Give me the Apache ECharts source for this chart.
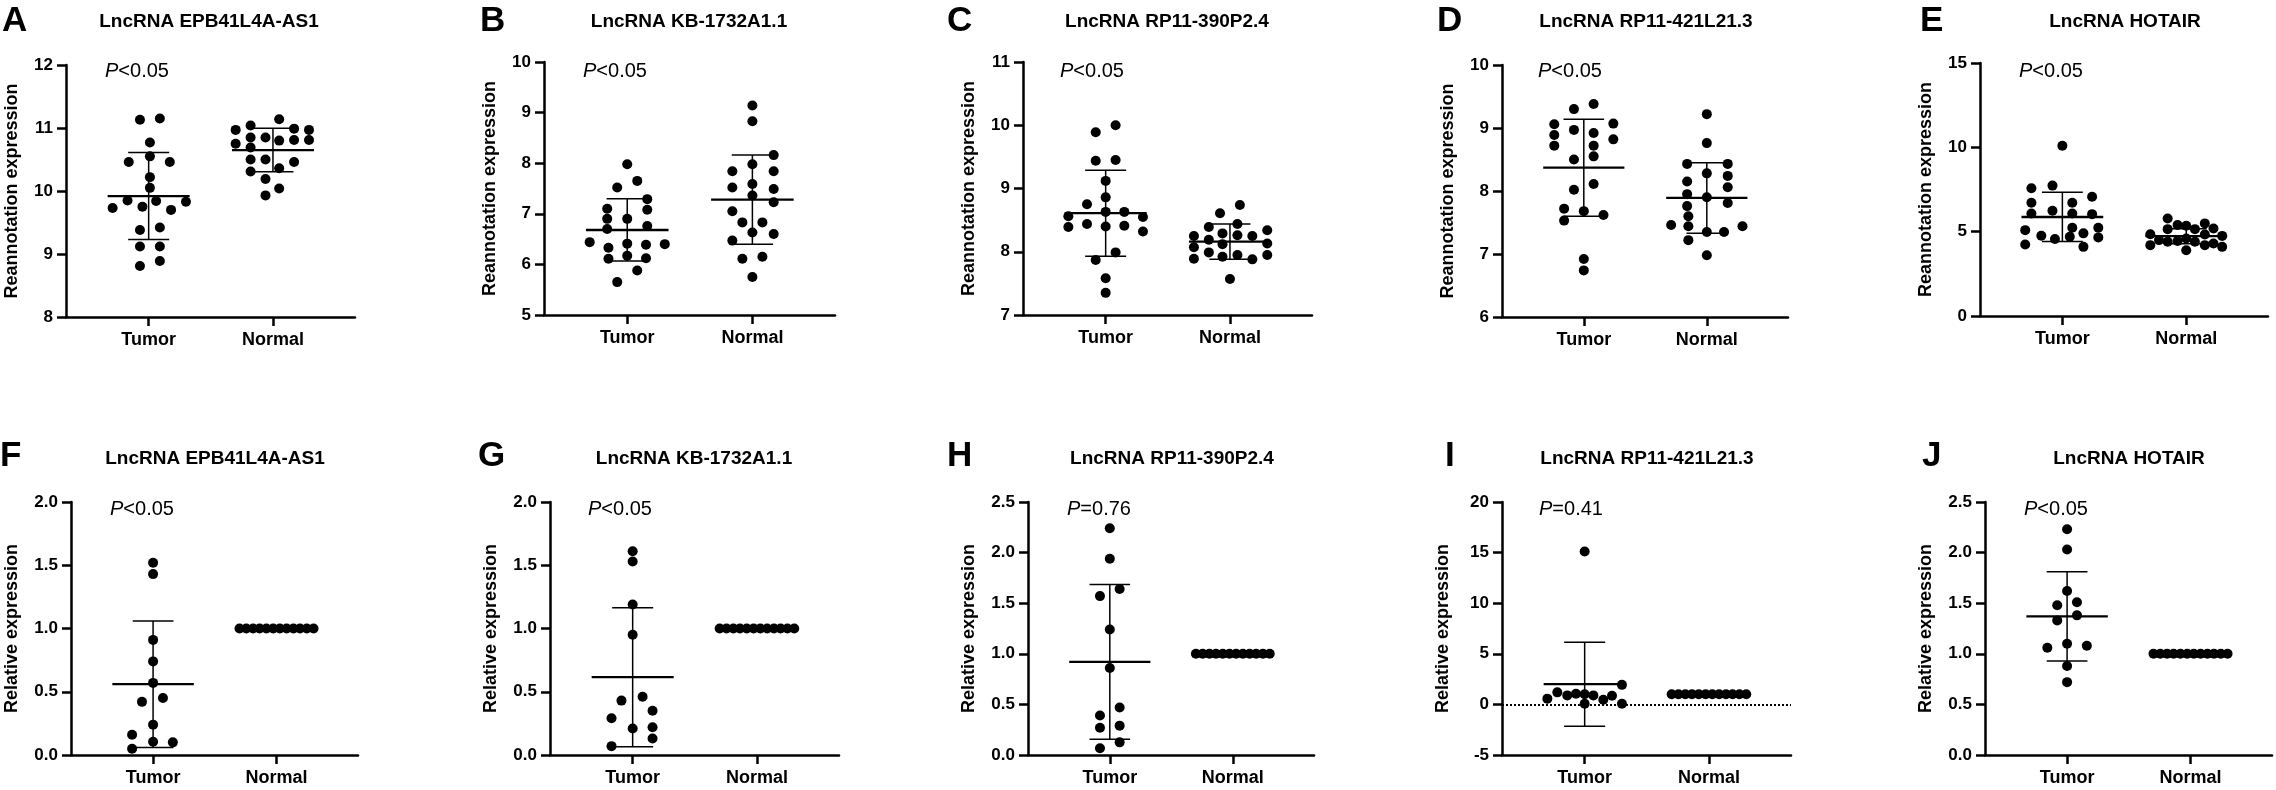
<!DOCTYPE html>
<html>
<head>
<meta charset="utf-8">
<script src="https://cdn.jsdelivr.net/npm/echarts@6/dist/echarts.min.js"></script>
<style>
  html, body { margin: 0; padding: 0; background: #fff; }
  #chart { width: 2276px; height: 790px; }
</style>
</head>
<body>
<div id="chart"></div>
<script>
var groups = ['Tumor', 'Normal'];
var letters = ['A', 'B', 'C', 'D', 'E', 'F', 'G', 'H', 'I', 'J'];
var genes = ['LncRNA EPB41L4A-AS1', 'LncRNA KB-1732A1.1', 'LncRNA RP11-390P2.4',
             'LncRNA RP11-421L21.3', 'LncRNA HOTAIR'];
var yNames = ['Reannotation expression', 'Relative expression'];
var pValues = ['<0.05', '<0.05', '<0.05', '<0.05', '<0.05', '<0.05', '<0.05', '=0.76', '=0.41', '<0.05'];
var yMin = [8, 5, 7, 6, 0, 0, 0, 0, -5, 0];
var yMax = [12, 10, 11, 10, 15, 2, 2, 2.5, 20, 2.5];
var yStep = [1, 1, 1, 1, 5, 0.5, 0.5, 0.5, 5, 0.5];
var yDecimals = [0, 0, 0, 0, 0, 1, 1, 1, 0, 1];

// each point: [offset inside its column, value]
var aTumor = [[-0.07,11.13],[0.09,11.15],[0.01,10.77],[-0.16,10.46],[0.01,10.55],[0.17,10.46],[0.01,10.22],
  [0.01,10.05],[-0.17,9.85],[0.06,9.84],[0.30,9.83],[-0.29,9.73],[-0.05,9.75],[0.18,9.70],[-0.07,9.38],
  [0.09,9.42],[-0.07,9.12],[0.09,9.12],[-0.07,8.81],[0.09,8.89]];
var aNormal = [[-0.30,10.97],[-0.18,11.04],[0.05,11.14],[0.17,10.99],[0.29,10.97],[-0.18,10.85],[-0.06,10.85],
  [0.05,10.80],[0.17,10.81],[0.29,10.81],[-0.30,10.75],[-0.18,10.69],[-0.18,10.50],[-0.06,10.50],[0.17,10.46],
  [-0.18,10.31],[0.05,10.36],[-0.06,10.19],[-0.06,9.93],[0.05,10.04]];
var bTumor = [[0,7.98],[-0.08,7.52],[0.08,7.65],[0.16,7.29],[-0.16,7.10],[0.16,7.08],[-0.16,6.90],[0,6.90],
  [-0.16,6.70],[0.16,6.76],[-0.30,6.44],[-0.15,6.33],[0,6.41],[0.15,6.39],[0.30,6.40],[-0.15,6.11],[0,6.17],
  [0.15,6.12],[0.08,5.88],[-0.08,5.65]];
var bNormal = [[0,9.14],[0,8.83],[0.17,8.16],[0,7.98],[-0.16,7.84],[0.17,7.84],[-0.16,7.52],[0,7.59],[0.17,7.49],
  [0,7.36],[-0.16,7.05],[0.17,7.23],[-0.08,6.83],[0.08,6.83],[0,6.63],[0.17,6.60],[-0.16,6.47],[-0.08,6.11],
  [0.08,6.15],[0,5.75]];
var cTumor = [[-0.08,9.89],[0.08,10.00],[-0.08,9.44],[0.08,9.45],[0,9.12],[0,8.86],[-0.15,8.75],[-0.30,8.56],
  [0,8.63],[0.15,8.63],[0.30,8.55],[-0.30,8.39],[-0.15,8.44],[0,8.40],[0.15,8.41],[0.30,8.32],[0.08,7.99],
  [-0.08,7.87],[0,7.58],[0,7.35]];
var cNormal = [[0.08,8.74],[-0.08,8.61],[-0.17,8.39],[0.06,8.44],[0.30,8.34],[-0.29,8.25],[-0.06,8.29],[0.06,8.26],
  [0.18,8.25],[-0.17,8.19],[0.30,8.13],[-0.29,8.07],[-0.06,8.12],[-0.17,7.99],[-0.29,7.89],[-0.06,7.92],
  [0.06,7.95],[0.18,7.88],[0.30,7.95],[0,7.57]];
var dTumor = [[-0.08,9.30],[0.08,9.38],[-0.24,9.06],[0.24,9.07],[-0.08,8.97],[0.08,8.92],[-0.24,8.89],[-0.24,8.72],
  [0.08,8.72],[0.24,8.82],[-0.08,8.50],[0.08,8.55],[0.08,8.11],[-0.08,8.02],[-0.16,7.72],[-0.16,7.53],[0,7.68],
  [0.16,7.62],[0,6.92],[0,6.74]];
var dNormal = [[0,9.22],[0,8.76],[-0.16,8.43],[0.17,8.43],[0,8.28],[0.17,8.24],[-0.16,8.15],[0.17,8.06],[-0.16,7.95],
  [0,7.90],[0.17,7.81],[-0.16,7.76],[-0.15,7.60],[-0.29,7.46],[-0.15,7.44],[0.29,7.44],[0,7.35],[0.14,7.35],
  [-0.15,7.22],[0,6.98]];
var eTumor = [[0,10.09],[-0.25,7.57],[-0.08,7.73],[0.24,7.07],[-0.25,6.71],[0.08,6.71],[-0.25,6.08],[-0.08,6.24],
  [0.08,6.08],[0.24,6.04],[-0.30,5.09],[0.08,5.23],[0.29,5.23],[-0.17,4.76],[-0.06,4.56],[0.06,4.70],[0.17,4.90],
  [0.29,4.66],[-0.30,4.24],[0.17,4.10]];
var eNormal = [[-0.15,5.78],[-0.15,5.15],[-0.07,5.39],[0,5.35],[0.07,5.15],[0.15,5.49],[0.22,5.19],[-0.29,4.85],
  [0.29,4.75],[-0.22,4.50],[-0.15,4.40],[-0.07,4.45],[0,4.60],[0.07,4.40],[0.15,4.83],[0.15,4.20],[0.22,4.30],
  [-0.29,4.20],[0.29,4.10],[0,3.90]];
var fTumor = [[0,1.52],[0,1.43],[0,0.91],[0,0.74],[0,0.57],[-0.09,0.42],[0.08,0.45],[0,0.24],[-0.17,0.16],
  [0,0.105],[0.16,0.10],[-0.17,0.05]];
var gTumor = [[0,1.61],[0,1.53],[0,1.19],[0,0.95],[-0.09,0.43],[0.08,0.46],[0.16,0.35],[-0.17,0.29],[0,0.21],
  [0.16,0.22],[0.16,0.13],[-0.17,0.07]];
var hTumor = [[0,2.24],[0,1.94],[-0.08,1.57],[0.08,1.64],[0,1.24],[0,0.86],[-0.08,0.39],[0.08,0.47],[-0.08,0.27],
  [0.08,0.29],[0.08,0.125],[-0.08,0.066]];
var iTumor = [[0,15.1],[0.30,1.93],[-0.30,0.57],[-0.22,1.19],[-0.14,0.89],[-0.07,1.06],[0,1.0],[0,0.07],
  [0.07,0.89],[0.15,0.46],[0.22,0.86],[0.30,0.07]];
var jTumor = [[0,2.23],[0,2.03],[0,1.62],[-0.08,1.48],[0.08,1.51],[-0.08,1.33],[0.08,1.38],[-0.16,1.06],[0,1.10],
  [0.16,1.08],[0,0.88],[0,0.72]];
// qPCR normal samples are all set to 1
var relNormal = [[-0.30,1],[-0.245,1],[-0.19,1],[-0.137,1],[-0.082,1],[-0.027,1],[0.027,1],[0.082,1],
  [0.137,1],[0.19,1],[0.245,1],[0.30,1]];

var tumorPts = [aTumor, bTumor, cTumor, dTumor, eTumor, fTumor, gTumor, hTumor, iTumor, jTumor];
var normalPts = [aNormal, bNormal, cNormal, dNormal, eNormal, relNormal, relNormal, relNormal, relNormal, relNormal];
// mean and SD of [Tumor, Normal]
var means = [[9.92,10.65],[6.68,7.28],[8.61,8.16],[8.37,7.89],[5.87,4.73],[0.56,1],[0.615,1],[0.92,1],[2.0,1],[1.37,1]];
var sds = [[0.69,0.345],[0.615,0.88],[0.68,0.28],[0.77,0.56],[1.46,0.45],[0.50,0],[0.55,0],[0.765,0],[4.15,0],[0.44,0]];
var refLine = [null, null, null, null, null, null, null, null, 0, null];

// panel layout: [left, top, right, bottom] of each plot, in px
var boxes = [[66,65,355,317],[544,62,835,315],[1023,62,1312,315],[1502,65,1788,317],[1980,63,2268,316],
  [71,502,358,755],[550,502,839,755],[1028,502,1314,755],[1502,502,1791,755],[1985,502,2272,755]];
var titleX = [209, 689, 1167, 1646, 2125, 215, 694, 1172, 1647, 2129];
var letterX = [2, 480, 947, 1437, 1920, 0, 478, 947, 1445, 1922];
var pX = [105, 583, 1060, 1538, 2019, 110, 588, 1067, 1539, 2024];

(function () {
  var font = '"Liberation Sans", Arial, sans-serif';
  var black = '#000';
  var grids = [], xAxes = [], yAxes = [], series = [], graphics = [];

  for (var i = 0; i < 10; i++) {
    var b = boxes[i];
    var isTop = i < 5;
    grids.push({ left: b[0], top: b[1], width: b[2] - b[0], height: b[3] - b[1], outerBoundsMode: 'none' });

    xAxes.push({
      type: 'value', gridIndex: i, min: 0.335, max: 2.66,
      splitLine: { show: false },
      axisLine: { show: true, onZero: false, lineStyle: { color: black, width: 2.5 } },
      axisTick: { show: true, customValues: [1, 2], length: 9, lineStyle: { color: black, width: 2.5 } },
      axisLabel: {
        customValues: [1, 2], margin: 14, color: black, fontSize: 18, fontWeight: 'bold', fontFamily: font,
        formatter: function (v) { return groups[Math.round(v) - 1]; }
      }
    });

    yAxes.push({
      type: 'value', gridIndex: i, min: yMin[i], max: yMax[i], interval: yStep[i],
      name: isTop ? yNames[0] : yNames[1], nameLocation: 'middle', nameGap: isTop ? 45 : 50,
      nameTextStyle: { color: black, fontSize: 18, fontWeight: 'bold', fontFamily: font },
      splitLine: { show: false },
      axisLine: { show: true, onZero: false, lineStyle: { color: black, width: 2.5 } },
      axisTick: { show: true, length: 9, lineStyle: { color: black, width: 2.5 } },
      axisLabel: {
        margin: 13, color: black, fontSize: 17, fontWeight: 'bold', fontFamily: font,
        formatter: (function (d) { return function (v) { return v.toFixed(d); }; })(yDecimals[i])
      }
    });

    var pts = [];
    tumorPts[i].forEach(function (p) { pts.push([1 + p[0], p[1]]); });
    normalPts[i].forEach(function (p) { pts.push([2 + p[0], p[1]]); });

    var scatter = {
      type: 'scatter', xAxisIndex: i, yAxisIndex: i, data: pts,
      symbol: 'circle', symbolSize: 10, itemStyle: { color: black, opacity: 1 }, z: 2, silent: true
    };
    if (refLine[i] !== null) {
      scatter.markLine = {
        silent: true, symbol: 'none', label: { show: false },
        lineStyle: { color: black, type: 'dotted', width: 2, opacity: 1 },
        data: [{ yAxis: refLine[i] }]
      };
    }
    series.push(scatter);

    series.push({
      type: 'custom', xAxisIndex: i, yAxisIndex: i, z: 3, silent: true,
      data: [[1, means[i][0], sds[i][0]], [2, means[i][1], sds[i][1]]],
      encode: { x: 0, y: 1 },
      renderItem: function (params, api) {
        var x = api.value(0), m = api.value(1), s = api.value(2);
        var ml = api.coord([x - 0.33, m]), mr = api.coord([x + 0.33, m]);
        var hi = api.coord([x, m + s]), lo = api.coord([x, m - s]);
        var hl = api.coord([x - 0.165, m + s]), hr = api.coord([x + 0.165, m + s]);
        var ll = api.coord([x - 0.165, m - s]), lr = api.coord([x + 0.165, m - s]);
        var thin = { stroke: black, lineWidth: 1.5 };
        return {
          type: 'group',
          children: [
            { type: 'line', shape: { x1: hi[0], y1: hi[1], x2: lo[0], y2: lo[1] }, style: thin },
            { type: 'line', shape: { x1: hl[0], y1: hl[1], x2: hr[0], y2: hr[1] }, style: thin },
            { type: 'line', shape: { x1: ll[0], y1: ll[1], x2: lr[0], y2: lr[1] }, style: thin },
            { type: 'line', shape: { x1: ml[0], y1: ml[1], x2: mr[0], y2: mr[1] }, style: { stroke: black, lineWidth: 2.3 } }
          ]
        };
      }
    });

    graphics.push({
      type: 'text', x: letterX[i], y: isTop ? 21 : 456,
      style: { text: letters[i], fill: black, font: 'bold 35px ' + font, verticalAlign: 'middle' }
    });
    graphics.push({
      type: 'text', x: titleX[i], y: isTop ? 22 : 459,
      style: { text: genes[i % 5], fill: black, font: 'bold 19px ' + font, align: 'center', verticalAlign: 'middle' }
    });
    graphics.push({
      type: 'text', x: pX[i], y: isTop ? 71 : 509,
      style: {
        text: '{i|P}' + pValues[i], fill: black, font: '20px ' + font, verticalAlign: 'middle',
        rich: { i: { fontStyle: 'italic', fontSize: 20, fontFamily: font, fill: black } }
      }
    });
  }

  var myChart = echarts.init(document.getElementById('chart'));
  myChart.setOption({
    animation: false,
    backgroundColor: '#fff',
    grid: grids,
    xAxis: xAxes,
    yAxis: yAxes,
    series: series,
    graphic: graphics
  });
})();
</script>
</body>
</html>
